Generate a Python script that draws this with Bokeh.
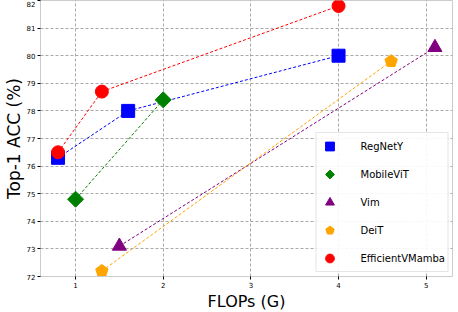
from bokeh.plotting import figure
from bokeh.models import Range1d, Legend, LegendItem, FixedTicker
from bokeh.embed import file_html
from bokeh.resources import INLINE

# Data
regnety_flops = [0.8, 1.6, 4.0]
regnety_acc = [76.3, 78.0, 80.0]
mobilevit_flops = [1.0, 2.0]
mobilevit_acc = [74.8, 78.4]
vim_flops = [1.5, 5.1]
vim_acc = [73.1, 80.3]
deit_flops = [1.3, 4.6]
deit_acc = [72.2, 79.8]
evm_flops = [0.8, 1.3, 4.0]
evm_acc = [76.5, 78.7, 81.8]
x_ticks = [1, 2, 3, 4, 5]
y_ticks = [72, 73, 74, 75, 76, 77, 78, 79, 80, 81, 82]

FONT = "DejaVu Sans"

p = figure(frame_width=412, frame_height=276, output_backend="svg", toolbar_location=None,
           x_range=Range1d(0.6, 5.3), y_range=Range1d(72, 82))
p.min_border_left = 0
p.min_border_right = 2
p.min_border_top = 0
p.min_border_bottom = 0
p.outline_line_color = "#cccccc"
p.background_fill_color = "white"

for ax in (p.xaxis[0], p.yaxis[0]):
    ax.axis_line_color = "#cccccc"
    ax.major_tick_line_color = "black"
    ax.major_tick_out = 3
    ax.major_tick_in = 0
    ax.minor_tick_line_color = None
    ax.major_label_text_font = FONT
    ax.major_label_text_font_size = "7px"
    ax.major_label_text_color = "black"
    ax.axis_label_text_font = FONT
    ax.axis_label_text_font_style = "normal"
    ax.axis_label_text_color = "black"
    ax.major_label_standoff = 2

p.xaxis[0].ticker = FixedTicker(ticks=x_ticks)
p.yaxis[0].ticker = FixedTicker(ticks=y_ticks)
p.xaxis[0].axis_label = "FLOPs (G)"
p.yaxis[0].axis_label = "Top-1 ACC (%)"
p.xaxis[0].axis_label_text_font_size = "16px"
p.yaxis[0].axis_label_text_font_size = "17px"
p.xaxis[0].axis_label_standoff = 1
p.yaxis[0].axis_label_standoff = 0

for g in (p.xgrid[0], p.ygrid[0]):
    g.grid_line_color = "#a0a0a0"
    g.grid_line_dash = "3 2"
    g.grid_line_width = 1
    g.grid_line_alpha = 0.9

dash = "3 2"
series = [
    ("RegNetY", regnety_flops, regnety_acc, "blue", "square", 13),
    ("MobileViT", mobilevit_flops, mobilevit_acc, "green", "diamond", 8),
    ("Vim", vim_flops, vim_acc, "purple", "triangle", 14),
    ("DeiT", deit_flops, deit_acc, "orange", "pentagon", 11),
    ("EfficientVMamba", evm_flops, evm_acc, "red", "circle", 13),
]

items = []
for name, xs, ys, col, mk, sz in series:
    p.line(xs, ys, line_color=col, line_dash=dash, line_width=1)
for name, xs, ys, col, mk, sz in series:
    if mk == "pentagon":
        r = p.ngon(x=xs, y=ys, radius=sz / 2 + 1, radius_units="screen", n=5,
                   fill_color=col, line_color=col)
    elif mk == "diamond":
        r = p.ngon(x=xs, y=ys, radius=sz, radius_units="screen", n=4,
                   fill_color=col, line_color=col)
    else:
        r = p.scatter(xs, ys, marker=mk, size=sz, fill_color=col, line_color=col)
    items.append(LegendItem(label=name, renderers=[r]))

legend = Legend(items=items, location="bottom_right")
legend.label_text_font = FONT
legend.label_text_font_size = "10px"
legend.label_text_color = "black"
legend.glyph_height = 22
legend.glyph_width = 22
legend.spacing = 6
legend.label_standoff = 20
legend.padding = 2
legend.margin = 4
legend.border_line_color = "#cccccc"
legend.background_fill_alpha = 0.9
p.add_layout(legend)

open("out.html", "w").write(file_html(p, INLINE))
